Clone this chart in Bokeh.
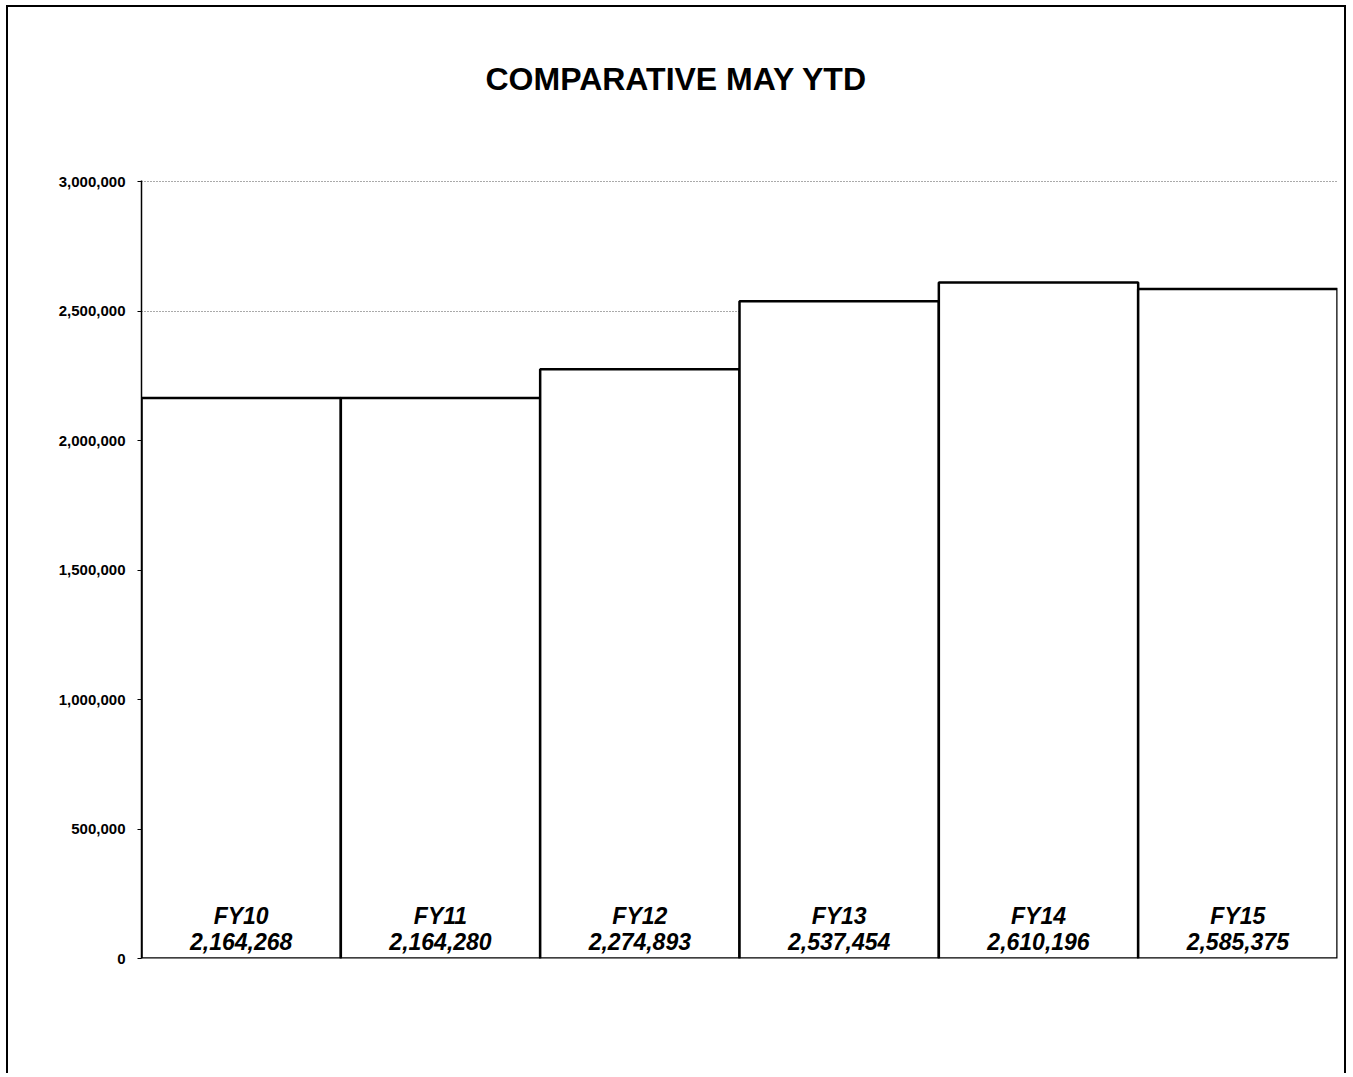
from bokeh.plotting import figure
from bokeh.models import ColumnDataSource, FactorRange, Range1d, NumeralTickFormatter, FixedTicker, Title
from bokeh.core.properties import value
from bokeh.embed import file_html
from bokeh.resources import INLINE

categories = ["FY10", "FY11", "FY12", "FY13", "FY14", "FY15"]
values = [2164268, 2164280, 2274893, 2537454, 2610196, 2585375]
value_labels = ["2,164,268", "2,164,280", "2,274,893", "2,537,454", "2,610,196", "2,585,375"]
y_ticks = [0, 500000, 1000000, 1500000, 2000000, 2500000, 3000000]
title_text = "COMPARATIVE MAY YTD"

FONT = "Liberation Sans"

src = ColumnDataSource(dict(cat=categories, val=values, lab=value_labels,
                            zero=[0] * len(categories)))

p = figure(width=1340, height=1068, output_backend="svg", toolbar_location=None,
           x_range=FactorRange(*categories, range_padding=0),
           y_range=Range1d(0, 3004000),
           min_border_left=133, min_border_right=11, min_border_top=173, min_border_bottom=117)
p.title_location = None
p.styles = {"border-top": "2px solid black", "border-left": "2px solid black",
            "border-right": "2px solid black", "margin-left": "6px", "margin-top": "5px"}
p.outline_line_color = None
p.background_fill_color = "white"
p.border_fill_color = "white"

# spacer panel between frame and title, then the title itself
p.add_layout(Title(text=" ", text_font_size="60px", text_color="white"), "above")
p.add_layout(Title(text=title_text, align="left", offset=344,
                   text_font=FONT, text_font_style="bold", text_font_size="32px",
                   text_color="black"), "above")

p.vbar(x="cat", top="val", bottom=0, width=1.0, source=src,
       fill_color="white", line_color="black", line_width=2.5)

p.text(x="cat", y="zero", text="cat", source=src, y_offset=-43,
       text_font=value(FONT), text_font_style="bold italic", text_font_size="23px",
       text_align="center", text_baseline="middle", text_color="black")
p.text(x="cat", y="zero", text="lab", source=src, y_offset=-17,
       text_font=value(FONT), text_font_style="bold italic", text_font_size="23px",
       text_align="center", text_baseline="middle", text_color="black")

# y axis
p.yaxis.ticker = FixedTicker(ticks=y_ticks)
p.yaxis.formatter = NumeralTickFormatter(format="0,0")
p.yaxis.major_label_text_font = FONT
p.yaxis.major_label_text_font_style = "bold"
p.yaxis.major_label_text_font_size = "15px"
p.yaxis.major_label_text_color = "black"
p.yaxis.major_tick_out = 4
p.yaxis.major_tick_in = 0
p.yaxis.minor_tick_out = 0
p.yaxis.minor_tick_in = 0
p.yaxis.major_label_standoff = 12
p.yaxis.axis_line_color = "black"
p.yaxis.axis_line_width = 1.5
p.yaxis.major_tick_line_color = "black"

# x axis: the bars' bottom edges form the baseline
p.xaxis.visible = False

p.xgrid.grid_line_color = None
p.ygrid.grid_line_color = "#555555"
p.ygrid.grid_line_dash = "1 2"
p.ygrid.grid_line_width = 1

open("out.html", "w").write(file_html(p, INLINE))
